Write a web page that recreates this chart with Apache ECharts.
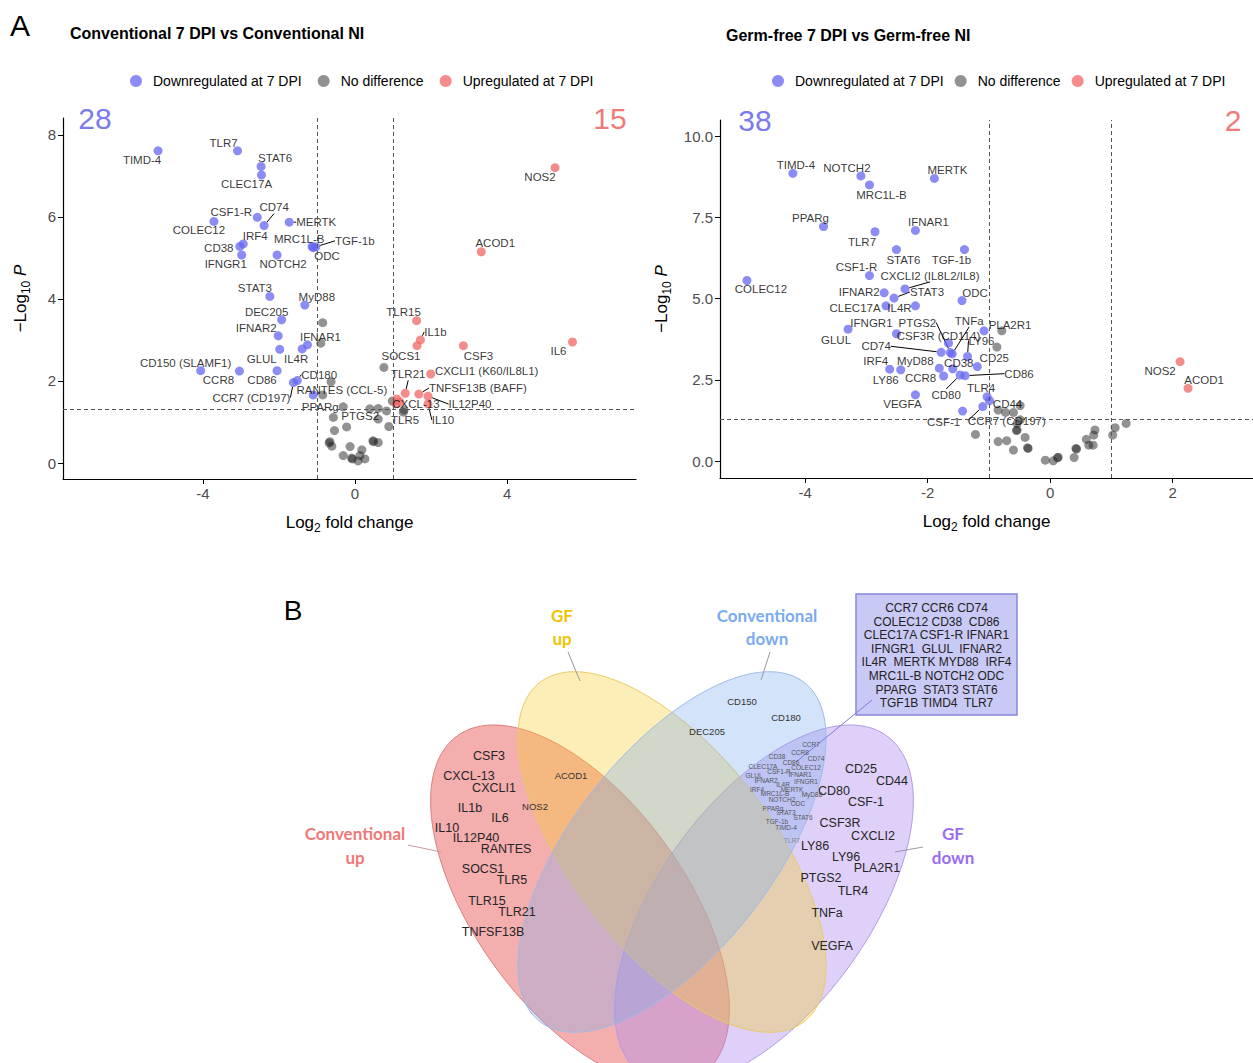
<!DOCTYPE html>
<html><head><meta charset="utf-8">
<script src="https://cdn.jsdelivr.net/npm/echarts@6/dist/echarts.min.js"></script>
<style>html,body{margin:0;padding:0;background:#fff}#c{width:1253px;height:1063px}</style>
</head><body><div id="c"></div>
<script>
// ---------------- DATA ----------------
// Conventional 7 DPI vs Conventional NI : [label, log2FC, -log10 P]
const convDown = [
 ['TIMD-4',-5.18,7.61],['TLR7',-3.09,7.61],['STAT6',-2.47,7.23],['CLEC17A',-2.46,7.02],
 ['CSF1-R',-2.57,5.99],['CD74',-2.39,5.79],['COLEC12',-3.71,5.89],['MERTK',-1.73,5.87],
 ['IRF4',-2.94,5.34],['CD38',-3.03,5.28],['IFNGR1',-2.98,5.07],['NOTCH2',-2.05,5.07],
 ['MRC1L-B',-1.10,5.25],['ODC',-1.13,5.28],['TGF-1b',-1.03,5.27],['STAT3',-2.24,4.06],
 ['MyD88',-1.32,3.85],['DEC205',-1.93,3.49],['IFNAR2',-2.02,3.10],['IFNAR1',-1.25,2.88],
 ['IL4R',-1.39,2.78],['GLUL',-1.98,2.77],['CD150 (SLAMF1)',-4.06,2.25],['CCR8',-3.04,2.24],
 ['CD86',-2.05,2.25],['CD180',-1.52,2.01],['CCR7 (CD197)',-1.62,1.96],['PPARg',-1.10,1.66]
];
const convNone = [
 ['',-0.85,3.42],['',-0.90,2.92],['',-0.63,1.98],['',-0.85,1.66],['',-0.31,1.37],['',-0.57,1.11],
 ['',-0.22,0.88],['',-0.54,0.79],['',-0.66,0.52],['',-0.68,0.49],['',-0.61,0.41],['',-0.13,0.40],
 ['',-0.31,0.18],['',-0.09,0.12],['',-0.07,0.10],['',0.08,0.05],['',0.13,0.18],['',0.18,0.32],
 ['',0.26,0.10],['',0.47,0.54],['',0.49,0.52],['',0.61,0.50],['',0.89,0.89],['',0.61,1.07],
 ['',0.39,1.32],['PTGS2',0.61,1.33],['',0.83,1.27],['',0.76,2.33],['',0.98,1.51],
 ['',1.29,1.29],['',1.27,1.24]
];
const convUp = [
 ['NOS2',5.26,7.20],['ACOD1',3.32,5.15],['TLR15',1.62,3.47],['IL1b',1.72,3.00],
 ['SOCS1',1.63,2.86],['CSF3',2.85,2.86],['IL6',5.72,2.95],['CXCLI1 (K60/IL8L1)',1.99,2.17],
 ['TLR21',1.32,1.70],['TNFSF13B (BAFF)',1.68,1.68],['IL12P40',1.92,1.63],['IL10',1.92,1.44],
 ['RANTES (CCL-5)',1.10,1.56],['CXCL-13',1.18,1.49],['TLR5',1.08,1.44]
];
// Germ-free 7 DPI vs Germ-free NI
const gfDown = [
 ['TIMD-4',-4.20,8.86],['NOTCH2',-3.09,8.78],['MRC1L-B',-2.95,8.50],['MERTK',-1.89,8.70],
 ['PPARg',-3.70,7.22],['TLR7',-2.86,7.06],['IFNAR1',-2.20,7.10],['STAT6',-2.51,6.51],
 ['TGF-1b',-1.40,6.51],['COLEC12',-4.95,5.56],['CSF1-R',-2.95,5.71],['CXCLI2 (IL8L2/IL8)',-2.37,5.30],
 ['IFNAR2',-2.71,5.18],['STAT3',-2.55,5.02],['ODC',-1.44,4.94],['CLEC17A',-2.68,4.78],
 ['IL4R',-2.20,4.78],['GLUL',-3.30,4.06],['IFNGR1',-2.51,3.92],['PLA2R1',-1.08,4.01],
 ['CSF3R (CD114)',-1.66,3.63],['PTGS2',-1.63,3.34],['TNFa',-1.60,3.30],['CD74',-1.78,3.35],
 ['LY96',-1.35,3.22],['CD25',-1.19,2.91],['CD38',-1.59,2.84],['IRF4',-2.62,2.83],
 ['LY86',-2.44,2.81],['MyD88',-1.81,2.86],['CCR8',-1.74,2.62],['CD80',-1.47,2.65],
 ['CD86',-1.39,2.63],['TLR4',-1.03,1.98],['CD44',-0.99,1.86],['VEGFA',-2.20,2.04],
 ['CSF-1',-1.43,1.54],['CCR7 (CD197)',-1.10,1.68]
];
const gfNone = [
 ['',-0.79,4.01],['',-0.87,3.51],['',-0.85,1.57],['',-0.73,1.50],['',-0.60,1.50],['',-0.49,1.71],
 ['',-0.49,1.27],['',-0.54,1.16],['',-0.54,0.96],['',-0.55,0.94],['',-0.41,0.73],['',-0.36,0.39],
 ['',-0.37,0.41],['',-0.85,0.60],['',-0.71,0.63],['',-0.60,0.34],['',-1.22,0.82],['',-0.08,0.03],
 ['',0.05,0.01],['',0.12,0.10],['',0.13,0.12],['',0.39,0.11],['',0.42,0.39],['',0.43,0.37],
 ['',0.59,0.67],['',0.63,0.49],['',0.70,0.49],['',0.71,0.80],['',0.73,0.96],['',1.02,0.80],
 ['',1.06,1.03],['',1.24,1.16]
];
const gfUp = [['NOS2',2.12,3.06],['ACOD1',2.25,2.24]];

const convCounts = ['28','15'];
const gfCounts = ['38','2'];
const convXTicks = [-4,0,4], convYTicks = [0,2,4,6,8];
const gfXTicks = [-4,-2,0,2], gfYTicks = [0,2.5,5,7.5,10];
const fcCut = 1, pCut = 1.30103;

// Venn set members
const vennConvUpOnly = ['CSF3','CXCL-13','CXCLI1','IL1b','IL6','IL10','IL12P40','RANTES','SOCS1','TLR5','TLR15','TLR21','TNFSF13B'];
const vennUpShared = ['ACOD1','NOS2'];
const vennConvDownOnly = ['CD150','CD180','DEC205'];
const vennDownShared = ['CCR7','CCR8','CD74','CD38','CD86','COLEC12','CLEC17A','CSF1-R','GLUL','IFNAR1','IFNAR2','IFNGR1','IL4R','IRF4','MERTK','MRC1L-B','MyD88','NOTCH2','ODC','PPARg','STAT3','STAT6','TGF-1b','TIMD-4','TLR7'];
const vennGFDownOnly = ['CD25','CD44','CD80','CSF-1','CSF3R','CXCLI2','LY86','LY96','PLA2R1','PTGS2','TLR4','TNFa','VEGFA'];
const boxLines = ['CCR7 CCR6 CD74','COLEC12 CD38  CD86','CLEC17A CSF1-R IFNAR1','IFNGR1  GLUL  IFNAR2','IL4R  MERTK MYD88  IRF4','MRC1L-B NOTCH2 ODC','PPARG  STAT3 STAT6','TGF1B TIMD4  TLR7'];

// ---------------- LAYOUT (label offsets, px) ----------------
const convOff = {'TIMD-4':[-16,9],'TLR7':[-14,-8],'STAT6':[14,-8],'CLEC17A':[-15,9],'CSF1-R':[-26,-5],'CD74':[10,-18],
 'COLEC12':[-15,9],'MERTK':[27,0],'IRF4':[12,-8],'CD38':[-21,2],'IFNGR1':[-16,9],'NOTCH2':[6,9],'MRC1L-B':[-14,-9],
 'TGF-1b':[39,-6],'ODC':[15,10],'STAT3':[-15,-8],'MyD88':[12,-8],'DEC205':[-15,-8],'IFNAR2':[-22,-8],'IFNAR1':[13,-8],
 'GLUL':[-18,10],'IL4R':[-6,10],'CD150 (SLAMF1)':[-15,-8],'CCR8':[-21,9],'CD86':[-15,9],'CD180':[22,-6],
 'CCR7 (CD197)':[-42,15],'PPARg':[7,12],'PTGS2':[-18,8],
 'NOS2':[-15,9],'ACOD1':[14,-9],'TLR15':[-13,-9],'IL1b':[15,-8],'SOCS1':[-16,10],'CSF3':[15,10],'IL6':[-14,9],
 'CXCLI1 (K60/IL8L1)':[56,-3],'TLR21':[3,-19],'TNFSF13B (BAFF)':[59,-6],'IL12P40':[42,8],'IL10':[15,16],
 'RANTES (CCL-5)':[-55,-9],'CXCL-13':[16,2],'TLR5':[9,16]};
const convArrows = ['CD74','MERTK','TGF-1b','CD180','CCR7 (CD197)','IL1b','TLR21','TNFSF13B (BAFF)','IL12P40','IL10'];
const gfOff = {'TIMD-4':[3,-8],'NOTCH2':[-14,-8],'MRC1L-B':[12,10],'MERTK':[13,-8],'PPARg':[-13,-9],'TLR7':[-13,10],
 'IFNAR1':[13,-8],'STAT6':[7,10],'TGF-1b':[-13,10],'COLEC12':[14,9],'CSF1-R':[-13,-9],'CXCLI2 (IL8L2/IL8)':[25,-13],
 'IFNAR2':[-25,-1],'STAT3':[33,-6],'ODC':[13,-8],'CLEC17A':[-31,2],'IL4R':[-16,2],'GLUL':[-12,11],'IFNGR1':[-25,-11],
 'PTGS2':[-33,-30],'TNFa':[17,-33],'PLA2R1':[26,-6],'CSF3R (CD114)':[-10,-7],'CD74':[-65,-6],'LY96':[14,-16],
 'CD25':[17,-9],'CD38':[6,-6],'IRF4':[-14,-8],'LY86':[-15,10],'MyD88':[-24,-7],'CCR8':[-23,2],'CD80':[-14,20],
 'CD86':[54,-2],'TLR4':[-6,-9],'CD44':[18,3],'VEGFA':[-13,9],'CSF-1':[-19,11],'CCR7 (CD197)':[24,14],
 'NOS2':[-20,9],'ACOD1':[16,-8]};
const gfArrows = ['CXCLI2 (IL8L2/IL8)','STAT3','PTGS2','TNFa','CD74','LY96','CD80','CD86','CCR7 (CD197)'];

const vennPos = {
 'CSF3':[489,756],'CXCL-13':[469,776],'CXCLI1':[494,788],'IL1b':[470,808],'IL6':[500,818],'IL10':[447,828],
 'IL12P40':[476,838],'RANTES':[506,849],'SOCS1':[483,869],'TLR5':[512,880],'TLR15':[487,901],'TLR21':[517,912],
 'TNFSF13B':[493,932],
 'ACOD1':[571,775],'NOS2':[535,806],
 'CD150':[742,701],'CD180':[786,717],'DEC205':[707,731],
 'CCR7':[811,744],'CCR8':[800,752],'CD74':[816,758],'CD38':[777,756],'CD86':[791,762],'COLEC12':[806,767],
 'CLEC17A':[763,766],'CSF1-R':[779,771],'GLUL':[754,775],'IFNAR1':[800,774],'IFNAR2':[766,780],'IFNGR1':[806,781],
 'IL4R':[783,784],'IRF4':[757,789],'MERTK':[792,789],'MRC1L-B':[775,793],'MyD88':[812,794],'NOTCH2':[782,799],
 'ODC':[798,803],'PPARg':[773,808],'STAT3':[786,812],'STAT6':[803,817],'TGF-1b':[777,821],'TIMD-4':[786,827],
 'TLR7':[792,840],
 'CD25':[861,769],'CD44':[892,781],'CD80':[834,791],'CSF-1':[866,802],'CSF3R':[840,823],'CXCLI2':[873,836],
 'LY86':[815,846],'LY96':[846,857],'PLA2R1':[877,868],'PTGS2':[821,878],'TLR4':[853,891],'TNFa':[827,913],'VEGFA':[832,946]
};

// ---------------- BUILD ----------------
const FONT = 'Liberation Sans, Arial, sans-serif';
const BLUE = 'rgba(100,100,242,0.93)', RED = 'rgba(240,100,100,0.93)', GRAY = 'rgba(34,34,34,0.62)';
const NAMES = ['Downregulated at 7 DPI','No difference','Upregulated at 7 DPI'];

function items(list, arrows){
  return list.map(r => ({name: r[0], value: [r[1], r[2]],
    label: {show: r[0] !== ''}, labelLine: {show: arrows.indexOf(r[0]) >= 0}}));
}
function layoutFn(list, off){
  return function(p){ const o = off[list[p.dataIndex][0]]; return o ? {dx: o[0], dy: o[1]} : {}; };
}
function series(name, list, idx, color, off, arrows, extra){
  return Object.assign({
    name: name, type: 'scatter', xAxisIndex: idx, yAxisIndex: idx,
    symbolSize: 9, data: items(list, arrows),
    itemStyle: {color: color},
    label: {show: true, position: 'inside', formatter: '{b}', color: '#000', fontSize: 11.5, fontFamily: FONT},
    labelLine: {show: false, lineStyle: {color: '#000', width: 1}},
    labelLayout: layoutFn(list, off),
    emphasis: {disabled: true}, z: 3
  }, extra || {});
}
function cutLines(){
  return {silent: true, symbol: ['none','none'], label: {show: false},
    lineStyle: {type: [4,3], color: '#555', width: 1},
    data: [{xAxis: -fcCut}, {xAxis: fcCut}, {yAxis: pCut}]};
}
const axisCommon = {
  axisLine: {show: true, onZero: false, lineStyle: {color: '#000', width: 1.2}},
  splitLine: {show: false},
  nameTextStyle: {color: '#000'}
};
function xAxis(idx, min, max, ticks){
  return Object.assign({}, axisCommon, {type: 'value', gridIndex: idx, min: min, max: max,
    axisTick: {show: true, length: 5, customValues: ticks, lineStyle: {color: '#000'}},
    axisLabel: {customValues: ticks, fontSize: 15, color: '#4d4d4d', fontFamily: FONT, margin: 7},
    name: '{m|Log}{s|2}{m| fold change}', nameLocation: 'middle', nameGap: 31,
    nameTextStyle: {rich: {m: {fontSize: 17, color: '#000', fontFamily: FONT, lineHeight: 24},
      s: {fontSize: 12, color: '#000', fontFamily: FONT, lineHeight: 12, verticalAlign: 'bottom'}}}
  });
}
function yAxis(idx, min, max, ticks, fmt, gap){
  return Object.assign({}, axisCommon, {type: 'value', gridIndex: idx, min: min, max: max,
    axisTick: {show: true, length: 5, customValues: ticks, lineStyle: {color: '#000'}},
    axisLabel: {customValues: ticks, fontSize: 15, color: '#4d4d4d', fontFamily: FONT, margin: 7, formatter: fmt},
    name: '{m|\u2212Log}{s|10}{p| P}', nameLocation: 'middle', nameGap: gap, nameRotate: 90,
    nameTextStyle: {rich: {m: {fontSize: 17, color: '#000', fontFamily: FONT, lineHeight: 24},
      s: {fontSize: 12, color: '#000', fontFamily: FONT, lineHeight: 12, verticalAlign: 'bottom'},
      p: {fontSize: 17, color: '#000', fontFamily: FONT, fontStyle: 'italic', lineHeight: 24}}}
  });
}

// Venn geometry
const ellipses = [
  {cx: 580, cy: 905, a: 209, b: 105, phi: 54, fill: 'rgba(232,86,86,0.48)', stroke: '#de7c7c'},
  {cx: 764, cy: 905, a: 209, b: 105, phi: 126, fill: 'rgba(176,142,238,0.42)', stroke: '#b49ae6'},
  {cx: 672, cy: 852, a: 215, b: 100, phi: 52, fill: 'rgba(246,206,40,0.34)', stroke: '#e8cc66'},
  {cx: 672, cy: 852, a: 215, b: 100, phi: 128, fill: 'rgba(125,174,238,0.34)', stroke: '#9dbbe8'}
];
function ellipsePts(e){
  const p = e.phi * Math.PI / 180, pts = [];
  for (let i = 0; i < 240; i++){
    const t = i / 240 * 2 * Math.PI;
    pts.push([e.cx + e.a*Math.cos(t)*Math.cos(p) - e.b*Math.sin(t)*Math.sin(p),
              e.cy + e.a*Math.cos(t)*Math.sin(p) + e.b*Math.sin(t)*Math.cos(p)]);
  }
  return pts;
}
function txt(s, x, y, size, color, weight, family){
  return {type: 'text', x: x, y: y, silent: true, z: 10,
    style: {text: s, fontSize: size, fontFamily: family || FONT, fontWeight: weight || 'normal', fill: color,
      align: 'center', verticalAlign: 'middle', textAlign: 'center', textVerticalAlign: 'middle'}};
}
function line(x1,y1,x2,y2,color){
  return {type: 'line', silent: true, z: 9, shape: {x1:x1,y1:y1,x2:x2,y2:y2}, style: {stroke: color, lineWidth: 1}};
}
const graphics = [];
ellipses.forEach(e => graphics.push({type: 'polygon', silent: true, z: 1, shape: {points: ellipsePts(e)},
  style: {fill: e.fill, stroke: e.stroke, lineWidth: 1}}));
vennConvUpOnly.forEach(n => graphics.push(txt(n, vennPos[n][0], vennPos[n][1], 12.5, '#262626')));
vennGFDownOnly.forEach(n => graphics.push(txt(n, vennPos[n][0], vennPos[n][1], 12.5, '#262626')));
vennUpShared.forEach(n => graphics.push(txt(n, vennPos[n][0], vennPos[n][1], 9.5, '#333')));
vennConvDownOnly.forEach(n => graphics.push(txt(n, vennPos[n][0], vennPos[n][1], 9.5, '#333')));
vennDownShared.forEach(n => graphics.push(txt(n, vennPos[n][0], vennPos[n][1], 6.5, n === 'TLR7' ? '#888' : '#555')));
// set titles and leader lines
graphics.push(txt('GF', 562, 615, 17, '#f2c200', 'bold', 'Lato, sans-serif'));
graphics.push(txt('up', 562, 638, 17, '#f2c200', 'bold', 'Lato, sans-serif'));
graphics.push(txt('Conventional', 767, 615, 17, '#7aaaf0', 'bold', 'Lato, sans-serif'));
graphics.push(txt('down', 767, 638, 17, '#7aaaf0', 'bold', 'Lato, sans-serif'));
graphics.push(txt('Conventional', 355, 833, 17, '#f07878', 'bold', 'Lato, sans-serif'));
graphics.push(txt('up', 355, 857, 17, '#f07878', 'bold', 'Lato, sans-serif'));
graphics.push(txt('GF', 953, 833, 17, '#9a6cf0', 'bold', 'Lato, sans-serif'));
graphics.push(txt('down', 953, 857, 17, '#9a6cf0', 'bold', 'Lato, sans-serif'));
graphics.push(line(568, 652, 580, 681, '#999'));
graphics.push(line(770, 652, 761, 680, '#999'));
graphics.push(line(408, 845, 441, 852, '#c99'));
graphics.push(line(923, 847, 895, 852, '#99a'));
graphics.push(line(872, 700, 796, 762, '#7a7ae0'));
graphics.push({type: 'rect', silent: true, z: 8, shape: {x: 856, y: 594, width: 161, height: 121},
  style: {fill: '#c9c9f5', stroke: '#8888dd', lineWidth: 1.5}});
boxLines.forEach((s, i) => graphics.push(txt(s, 936.5, 608 + i*13.6, 12, '#222')));
// counts
graphics.push(txt(convCounts[0], 95, 118, 30, '#7b7bef'));
graphics.push(txt(convCounts[1], 610, 118, 30, '#f07a7a'));
graphics.push(txt(gfCounts[0], 755, 120, 30, '#7b7bef'));
graphics.push(txt(gfCounts[1], 1233, 120, 30, '#f07a7a'));
// panel letters
graphics.push(txt('A', 20, 25, 30, '#000'));
graphics.push(txt('B', 293, 610, 28, '#000'));

const legendCommon = {top: 69, itemWidth: 24, itemHeight: 12, icon: 'circle', selectedMode: false,
  data: NAMES, textStyle: {fontSize: 14, color: '#000', fontFamily: FONT}};

const option = {
  backgroundColor: '#fff',
  animation: false,
  textStyle: {fontFamily: FONT},
  title: [
    {text: 'Conventional 7 DPI vs Conventional NI', left: 65, top: 20, textStyle: {fontSize: 16, fontWeight: 'bold', color: '#000', fontFamily: FONT}},
    {text: 'Germ-free 7 DPI vs Germ-free NI', left: 721, top: 22, textStyle: {fontSize: 16, fontWeight: 'bold', color: '#000', fontFamily: FONT}}
  ],
  legend: [Object.assign({left: 125, itemGap: 16}, legendCommon), Object.assign({left: 767, itemGap: 11}, legendCommon)],
  grid: [
    {left: 63, right: 617, top: 118, bottom: 584},
    {left: 720, right: 0, top: 120, bottom: 585}
  ],
  xAxis: [xAxis(0, -7.68, 7.39, convXTicks), xAxis(1, -5.39, 3.31, gfXTicks)],
  yAxis: [yAxis(0, -0.39, 8.41, convYTicks, v => String(v), 31),
          yAxis(1, -0.52, 10.5, gfYTicks, v => v.toFixed(1), 47)],
  series: [
    series(NAMES[1], convNone, 0, GRAY, convOff, convArrows, {markLine: cutLines(), z: 2}),
    series(NAMES[0], convDown, 0, BLUE, convOff, convArrows),
    series(NAMES[2], convUp, 0, RED, convOff, convArrows),
    series(NAMES[1], gfNone, 1, GRAY, gfOff, gfArrows, {markLine: cutLines(), z: 2}),
    series(NAMES[0], gfDown, 1, BLUE, gfOff, gfArrows),
    series(NAMES[2], gfUp, 1, RED, gfOff, gfArrows)
  ],
  graphic: graphics
};
const chart = echarts.init(document.getElementById('c'), null, {renderer: 'svg', width: 1253, height: 1063});
chart.setOption(option);
</script></body></html>
